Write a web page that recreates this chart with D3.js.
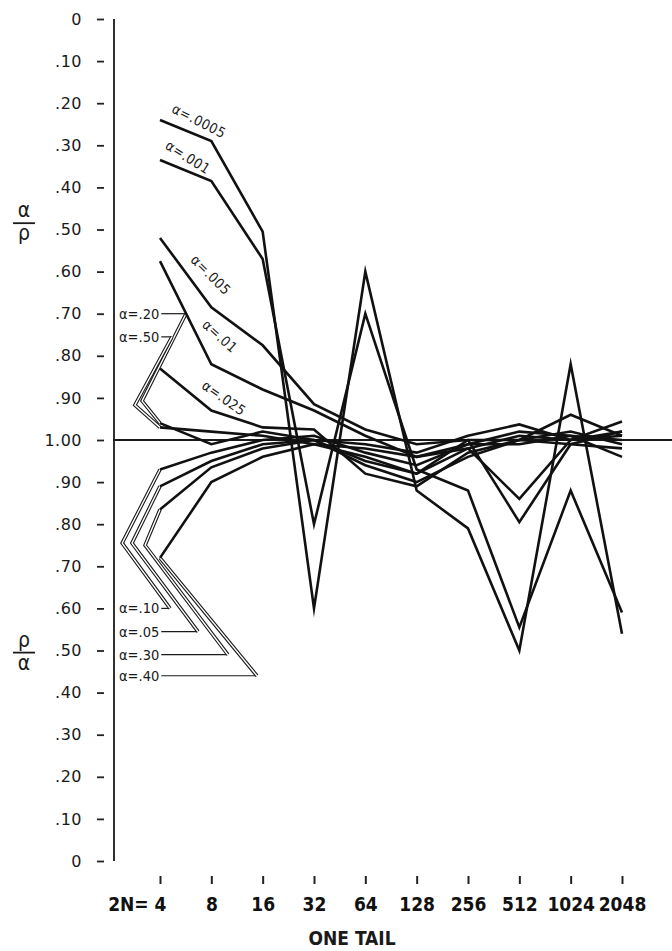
<!DOCTYPE html>
<html lang="en">
<head>
<meta charset="UTF-8">
<title>Alpha / p by 2N, one tail</title>
<script src="https://cdn.jsdelivr.net/npm/d3@7"></script>
<style>
    body { margin: 0; background: #fff; }
    svg { display: block; }
    .ylab text { font-family: "DejaVu Sans", sans-serif; font-size: 16px; fill: #1a1a1a; letter-spacing: 0.5px; }
    .xlab text { font-family: "DejaVu Sans Condensed", "DejaVu Sans", sans-serif; font-size: 19px; font-weight: bold; fill: #111; }
    .note { font-family: "DejaVu Sans Condensed", "DejaVu Sans", sans-serif; fill: #1a1a1a; }
</style>
</head>
<body>
<svg id="chart" width="672" height="951"></svg>
<script>
// x values (2N) and tick labels
const sampleSizes = [4, 8, 16, 32, 64, 128, 256, 512, 1024, 2048];
const xTickLabels = ["2N= 4", "8", "16", "32", "64", "128", "256", "512", "1024", "2048"];

// y runs 0..200: top half is alpha/p (0 -> 1.00), bottom half is p/alpha (1.00 -> 0)
const yTickValues = [0, 10, 20, 30, 40, 50, 60, 70, 80, 90, 100, 110, 120, 130, 140, 150, 160, 170, 180, 190, 200];
const yTickLabels = ["0", ".10", ".20", ".30", ".40", ".50", ".60", ".70", ".80", ".90", "1.00",
                     ".90", ".80", ".70", ".60", ".50", ".40", ".30", ".20", ".10", "0"];

// one list per alpha level (same order as sampleSizes)
const alpha0005 = [24, 29, 50.5, 140, 60, 112, 121, 150, 82, 146];
const alpha001  = [33.5, 38.5, 57, 120, 70, 107, 112, 144.5, 112, 141];
const alpha005  = [52, 68.5, 77.5, 91.5, 97.5, 101, 100, 119.5, 101, 98];
const alpha01   = [57.5, 82, 88, 93, 99, 104, 102, 114, 100, 99];
const alpha025  = [83, 93, 97, 97.5, 108, 111, 103, 100, 94, 99];
const alpha20   = [96, 101, 98, 100, 101, 103, 99, 96.3, 100, 95.6];
const alpha50   = [97, 98, 99, 101, 102, 104, 101, 98, 99, 104];
const alpha10   = [107, 103, 100, 99, 103, 106, 101, 101, 99, 100];
const alpha05   = [111, 105, 101, 100, 105, 108, 102, 99, 100, 98];
const alpha30   = [116.5, 106.5, 102, 100, 106, 110, 104, 100, 101, 102];
const alpha40   = [128, 110, 104, 101, 104, 108, 100, 100, 98, 101];

const alphaNames = [".0005", ".001", ".005", ".01", ".025", ".20", ".50", ".10", ".05", ".30", ".40"];
const alphaValues = [alpha0005, alpha001, alpha005, alpha01, alpha025, alpha20, alpha50, alpha10, alpha05, alpha30, alpha40];

const series = alphaNames.map((name, i) => ({
    name: name,
    points: sampleSizes.map((n, j) => ({ n: n, v: alphaValues[i][j] }))
}));

const svg = d3.select("#chart");

const x = d3.scaleLog().base(2).domain([4, 2048]).range([160, 622]);
const y = d3.scaleLinear().domain([0, 200]).range([19, 861]);

// y ticks: little dashes left of the axis line
const yAxis = svg.append("g")
    .attr("class", "ylab")
    .attr("transform", "translate(104,0)")
    .call(d3.axisLeft(y).tickValues(yTickValues)
        .tickFormat((d, i) => yTickLabels[i]).tickSize(7).tickPadding(15));
yAxis.select(".domain").remove();
yAxis.selectAll(".tick line").attr("stroke", "#222").attr("stroke-width", 1.8);

// axis line and the 1.00 line
svg.append("line")
    .attr("x1", 114).attr("x2", 114)
    .attr("y1", y(0)).attr("y2", y(200))
    .attr("stroke", "#1a1a1a").attr("stroke-width", 1.8);
svg.append("line")
    .attr("x1", 113).attr("x2", 672)
    .attr("y1", y(100)).attr("y2", y(100))
    .attr("stroke", "#1a1a1a").attr("stroke-width", 1.8);

// x ticks sit below the plot, no axis line
const xAxis = svg.append("g")
    .attr("class", "xlab")
    .attr("transform", "translate(0,876)")
    .call(d3.axisBottom(x).tickValues(sampleSizes)
        .tickFormat((d, i) => xTickLabels[i]).tickSize(8).tickPadding(14));
xAxis.select(".domain").remove();
xAxis.selectAll(".tick line").attr("stroke", "#222").attr("stroke-width", 2);
xAxis.selectAll(".tick text").filter((d, i) => i === 0)
    .attr("text-anchor", "end").attr("x", 6);

svg.append("text")
    .attr("class", "note")
    .attr("x", 352).attr("y", 945)
    .attr("text-anchor", "middle")
    .attr("font-size", 19).attr("font-weight", "bold")
    .text("ONE TAIL");

// stacked fraction titles
function fraction(cy, top, bottom) {
    const g = svg.append("g").attr("class", "note").attr("font-size", 21);
    g.append("text").attr("x", 24).attr("y", cy - 6).attr("text-anchor", "middle").text(top);
    g.append("line").attr("x1", 13).attr("x2", 35).attr("y1", cy).attr("y2", cy)
        .attr("stroke", "#1a1a1a").attr("stroke-width", 1.8);
    g.append("text").attr("x", 24).attr("y", cy + 17).attr("text-anchor", "middle").text(bottom);
}
fraction(y(48.5), "α", "ρ");
fraction(y(150.5), "ρ", "α");

// leader lines from the side labels to the start of their curves
const leaders = [
    { name: ".20", labelV: 70,    hEnd: 5.68, vertexN: 3.14, vertexV: 90.7 },
    { name: ".50", labelV: 75.5,  hEnd: 4.7,  vertexN: 2.85, vertexV: 91.7 },
    { name: ".10", labelV: 140,   hEnd: 4.58, vertexN: 2.4,  vertexV: 124.5 },
    { name: ".05", labelV: 145.5, hEnd: 6.68, vertexN: 2.74, vertexV: 124.5 },
    { name: ".30", labelV: 151,   hEnd: 10.0, vertexN: 3.27, vertexV: 125 },
    { name: ".40", labelV: 156,   hEnd: 14.8, vertexN: 4,    vertexV: alpha40[0] }
];

const leaderLayer = svg.append("g");
leaders.forEach(l => {
    const s = series.find(d => d.name === l.name);
    const ly = y(l.labelV);
    const t = leaderLayer.append("text")
        .attr("class", "note")
        .attr("x", 119).attr("y", ly)
        .attr("dominant-baseline", "central")
        .attr("font-size", 14.5)
        .text("α=" + l.name);
    const textEnd = 119 + t.node().getComputedTextLength() + 2;
    const hx = x(l.hEnd);
    if (hx > textEnd) {
        leaderLayer.append("line")
            .attr("x1", textEnd).attr("x2", hx).attr("y1", ly).attr("y2", ly)
            .attr("stroke", "#1a1a1a").attr("stroke-width", 1.2);
    }
    const pts = [[Math.max(hx, textEnd), ly], [x(l.vertexN), y(l.vertexV)], [x(s.points[0].n), y(s.points[0].v)]];
    const path = d3.line()(pts);
    leaderLayer.append("path").attr("d", path).attr("fill", "none")
        .attr("stroke", "#1a1a1a").attr("stroke-width", 3.6);
    leaderLayer.append("path").attr("d", path).attr("fill", "none")
        .attr("stroke", "#fff").attr("stroke-width", 1.4);
});

// the curves
const line = d3.line().x(d => x(d.n)).y(d => y(d.v));
svg.append("g").selectAll("path")
    .data(series)
    .join("path")
    .attr("d", d => line(d.points))
    .attr("fill", "none")
    .attr("stroke", "#111")
    .attr("stroke-width", 2.6)
    .attr("stroke-linejoin", "miter")
    .attr("stroke-miterlimit", 12);

// slanted labels on the upper curves
const slopeLabels = [
    { name: ".0005", n: 6.77, v: 24.2, angle: 27 },
    { name: ".001",  n: 5.84, v: 32.8, angle: 32 },
    { name: ".005",  n: 7.96, v: 60.8, angle: 45 },
    { name: ".01",   n: 8.99, v: 75.3, angle: 42 },
    { name: ".025",  n: 9.49, v: 90.0, angle: 35 }
];
svg.append("g").selectAll("text")
    .data(slopeLabels)
    .join("text")
    .attr("class", "note")
    .attr("font-size", 14)
    .attr("letter-spacing", 0.5)
    .attr("text-anchor", "middle")
    .attr("dominant-baseline", "central")
    .attr("transform", d => `translate(${x(d.n)},${y(d.v)}) rotate(${d.angle})`)
    .text(d => "α=" + d.name);
</script>
</body>
</html>
